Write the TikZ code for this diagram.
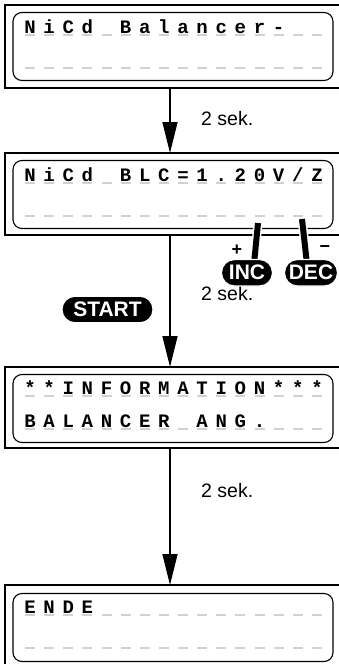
\documentclass[tikz,border=0pt]{standalone}
\usepackage{fontspec}
\setsansfont{Liberation Sans}
\newfontfamily\lcdfont{Liberation Mono}
\usepackage{tikz}
\usetikzlibrary{arrows.meta}
\pgfdeclarelayer{edgelayer}
\pgfdeclarelayer{nodelayer}
\pgfsetlayers{edgelayer,nodelayer,main}
\definecolor{lgrey}{rgb}{0.82,0.82,0.82}
\tikzstyle{none}=[inner sep=0pt]
\tikzstyle{outer}=[-,line width=1.4pt]
\tikzstyle{lcd}=[rectangle,rounded corners=9pt,draw=black,line width=1.1pt,minimum width=320pt,minimum height=68pt,inner sep=0pt]
\tikzstyle{glyph}=[anchor=base,inner sep=0pt,font=\lcdfont\bfseries\fontsize{19}{19}\selectfont]
\tikzstyle{cell}=[-,draw=lgrey,line width=1.5pt]
\tikzstyle{flow}=[-{Triangle[length=31pt,width=15pt]},line width=1.6pt]
\tikzstyle{button}=[rectangle,rounded corners=13pt,fill=black,draw=white,line width=1.2pt,text=white,inner sep=0pt,minimum height=26.5pt,font=\sffamily\bfseries\fontsize{21}{21}\selectfont]
\tikzstyle{stick}=[-,line width=6pt,draw=black,preaction={draw=white,line width=9pt}]
\tikzstyle{sign}=[inner sep=0pt,font=\sffamily\bfseries\fontsize{18}{18}\selectfont]
\tikzstyle{delay}=[anchor=base west,inner sep=0pt,font=\sffamily\fontsize{19.5}{20}\selectfont]
% one display line: 16 cells
\newcommand{\lcdrow}[3]{%
  \foreach \c [count=\i from 0] in {#3}
    \node [style=glyph] (#1\i) at ({30+19.13*\i}, #2) {\c};
  \foreach \i in {0,...,15}
    \draw [style=cell] ({25+19.13*\i}, #2+2) -- ++(10,0);
}

\begin{document}
\begin{tikzpicture}[x=1pt,y=-1pt]
	\useasboundingbox (0,0) rectangle (339,664);
	\begin{pgfonlayer}{nodelayer}
		\node [style=lcd] (d1) at (173, 46.5) {};
		\node [style=lcd] (d2) at (173, 194.5) {};
		\node [style=lcd] (d3) at (173, 408.5) {};
		\node [style=lcd] (d4) at (173, 627.5) {};
		\node [style=none] (F1TL) at (5, 5) {};
		\node [style=none] (F1TR) at (339, 5) {};
		\node [style=none] (F1BL) at (5, 88) {};
		\node [style=none] (F1BR) at (339, 88) {};
		\node [style=none] (F2TL) at (5, 153) {};
		\node [style=none] (F2TR) at (339, 153) {};
		\node [style=none] (F2BL) at (5, 235) {};
		\node [style=none] (F2BR) at (339, 235) {};
		\node [style=none] (F3TL) at (5, 367) {};
		\node [style=none] (F3TR) at (339, 367) {};
		\node [style=none] (F3BL) at (5, 448) {};
		\node [style=none] (F3BR) at (339, 448) {};
		\node [style=none] (F4TL) at (5, 585) {};
		\node [style=none] (F4TR) at (339, 585) {};
		\node [style=none] (F4BL) at (5, 664) {};
		\node [style=none] (out1) at (170, 88) {};
		\node [style=none] (in2) at (170, 153) {};
		\node [style=none] (out2) at (170, 235) {};
		\node [style=none] (in3) at (170, 367) {};
		\node [style=none] (out3) at (170, 448) {};
		\node [style=none] (in4) at (170, 585) {};
		\node [style=delay] (t1) at (201, 125) {2 sek.};
		\node [style=delay] (t2) at (201, 300) {2 sek.};
		\node [style=delay] (t3) at (201, 497) {2 sek.};
		\lcdrow{a}{33}{N,i,C,d, ,B,a,l,a,n,c,e,r,-}
		\lcdrow{b}{66}{ }
		\lcdrow{c}{181}{N,i,C,d, ,B,L,C,=,1,.,2,0,V,/,Z}
		\lcdrow{d}{214}{ }
		\lcdrow{e}{394}{*,*,I,N,F,O,R,M,A,T,I,O,N,*,*,*}
		\lcdrow{f}{427}{B,A,L,A,N,C,E,R, ,A,N,G,.}
		\lcdrow{g}{613}{E,N,D,E}
		\lcdrow{h}{646}{ }
	\end{pgfonlayer}
	\begin{pgfonlayer}{edgelayer}
		\draw [style=outer] (F1TR.center) to (F1TL.center) to (F1BL.center) to (F1BR.center);
		\draw [style=outer] (F2TR.center) to (F2TL.center) to (F2BL.center) to (F2BR.center);
		\draw [style=outer] (F3TR.center) to (F3TL.center) to (F3BL.center) to (F3BR.center);
		\draw [style=outer] (F4TR.center) to (F4TL.center) to (F4BL.center);
		\draw [style=flow] (out1.center) to (in2.center);
		\draw [style=flow] (out2.center) to (in3.center);
		\draw [style=flow] (out3.center) to (in4.center);
	\end{pgfonlayer}
	% keys
	\node [style=none] (incT) at (258, 223) {};
	\node [style=none] (incB) at (254, 264) {};
	\node [style=none] (decT) at (302, 219) {};
	\node [style=none] (decB) at (307, 264) {};
	\draw [style=stick] (incT.center) to (incB.center);
	\draw [style=stick] (decT.center) to (decB.center);
	\node [style=button, minimum width=51pt] (inc) at (247, 272.75) {INC};
	\node [style=button, minimum width=53pt] (dec) at (311, 272.75) {DEC};
	\node [style=button, minimum width=91pt] (start) at (107.5, 309.5) {START};
	\node [style=sign] (plus) at (237, 250) {+};
	\node [style=sign] (minus) at (325, 249) {\textminus};
\end{tikzpicture}
\end{document}
